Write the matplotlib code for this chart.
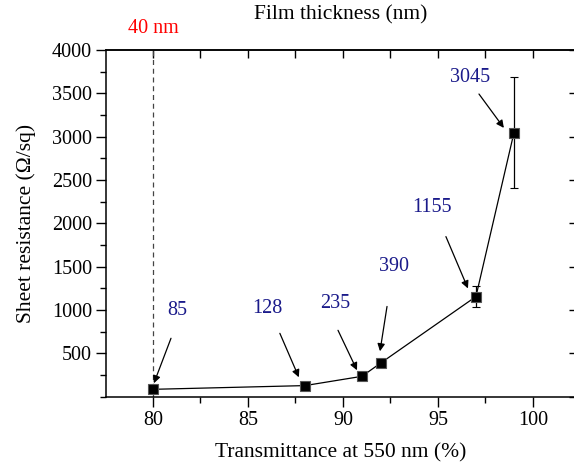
import matplotlib
matplotlib.use("Agg")
import matplotlib.pyplot as plt
from matplotlib.ticker import MultipleLocator, FixedLocator

plt.rcParams['font.family'] = ['Liberation Serif', 'DejaVu Serif']

# Transmittance (%) vs sheet resistance (ohm/sq)
transmittance = [80, 88, 91, 92, 97, 99]
sheet_res = [85, 128, 235, 390, 1155, 3045]
sheet_err = [0, 0, 0, 45, 125, 640]
labels = ["85", "128", "235", "390", "1155", "3045"]

# annotation text positions and arrow start / end (data units)
label_xy = [(81.3, 995), (86.0, 1018), (89.6, 1076), (92.7, 1502), (94.7, 2178), (96.7, 3677)]
arrow_from = [(80.95, 674), (86.68, 731), (89.74, 766), (92.32, 1041), (95.42, 1847), (97.16, 3492)]
arrow_to = [(80.05, 155), (87.68, 224), (90.74, 305), (91.95, 524), (96.58, 1249), (98.47, 3101)]

thickness_x = 80
thickness_label = "40 nm"

fig = plt.figure(figsize=(5.74, 4.65), dpi=100)
ax = fig.add_axes([0.1847, 0.1469, 0.8179, 0.7456])

ax.errorbar(transmittance, sheet_res, yerr=sheet_err, color='black', lw=0.9,
            marker='s', markersize=6.5, markeredgecolor='#555555', markeredgewidth=0.8,
            markerfacecolor='black',
            ecolor='black', elinewidth=0.9, capsize=3, capthick=0.9, zorder=3)

ax.axvline(thickness_x, ymin=0, ymax=1, color='#444444', lw=0.9, ls=(0, (4, 3)), zorder=1)

blue = '#1a1a8a'
for lab, (tx, ty), (fx, fy), (ex, ey) in zip(labels, label_xy, arrow_from, arrow_to):
    ax.text(tx, ty, lab, color=blue, fontsize=14.5, ha='center', va='center')
    ax.annotate('', xy=(ex, ey), xytext=(fx, fy),
                arrowprops=dict(arrowstyle='-|>', color='black', lw=0.9,
                                mutation_scale=11, shrinkA=0, shrinkB=0))

ax.set_xlim(77.53, 102.24)
ax.set_ylim(0, 4000)
ax.xaxis.set_major_locator(FixedLocator([80, 85, 90, 95, 100]))
ax.xaxis.set_minor_locator(MultipleLocator(2.5))
ax.yaxis.set_major_locator(FixedLocator([500, 1000, 1500, 2000, 2500, 3000, 3500, 4000]))
ax.yaxis.set_minor_locator(MultipleLocator(250))

ax.tick_params(axis='both', which='major', direction='out', length=7, width=1,
               labelsize=14.5, pad=3)
ax.tick_params(axis='both', which='minor', direction='out', length=4, width=1)
ax.tick_params(axis='x', which='both', top=False)
ax.tick_params(axis='y', which='both', right=False)
for s in ax.spines.values():
    s.set_linewidth(1.1)

ax.set_xlabel("Transmittance at 550 nm (%)", fontsize=15.5)
ax.xaxis.set_label_coords(0.5, -0.162)
ax.xaxis.label.set_va('center')
ax.set_ylabel("Sheet resistance (\u03a9/sq)", fontsize=15.5)
ax.yaxis.set_label_coords(-0.17, 0.5)
ax.yaxis.label.set_va('center')

# top axis: film thickness
top = ax.secondary_xaxis('top')
top.xaxis.set_major_locator(MultipleLocator(2.5))
top.tick_params(axis='x', which='major', direction='in', length=6, width=1,
                labeltop=False)
top.set_xticklabels([])
top.spines['top'].set_linewidth(1.1)

ax.text(0.5, 1.101, "Film thickness (nm)", transform=ax.transAxes,
        fontsize=15.5, ha='center', va='center')
ax.text(thickness_x, 1.035, thickness_label, transform=ax.get_xaxis_transform(),
        color='red', fontsize=14.5, ha='center', va='bottom')

# right-side ticks
right = ax.secondary_yaxis('right')
right.yaxis.set_major_locator(MultipleLocator(500))
right.tick_params(axis='y', which='major', direction='in', length=4, width=1, labelright=False)

fig.savefig("out.png", dpi=100)
